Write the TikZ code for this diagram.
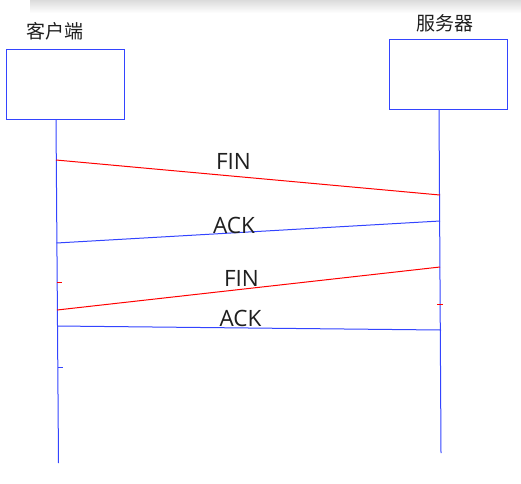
\documentclass[tikz,border=0pt]{standalone}
\usepackage{fontspec}
\setmainfont{Open Sans}
\newfontfamily\cjk{Noto Sans CJK SC}
\usetikzlibrary{positioning}
\definecolor{lineblue}{RGB}{51,68,255}
\definecolor{linered}{RGB}{255,0,0}
\tikzset{
  party/.style={draw=lineblue, line width=1pt, minimum width=118pt, minimum height=70pt, inner sep=0pt},
  life/.style={draw=lineblue, line width=1pt},
  finmsg/.style={draw=linered, line width=1pt},
  ackmsg/.style={draw=lineblue, line width=1pt},
  lbl/.style={font=\fontsize{22.5}{25}\selectfont, inner sep=0pt, text=black!88},
  cjklbl/.style={font=\cjk\fontsize{19}{22}\selectfont, inner sep=0pt, text=black!88},
}

\begin{document}
\begin{tikzpicture}[x=1pt,y=-1pt]
    \useasboundingbox (0,0) rectangle (521,483);
    \shade[top color=black!14, bottom color=white] (30,0) rectangle (521,13);
    % boxes and names
    \node[party] (client) at (65,84) {};
    \node[party] (server) at (448,74) {};
    \node[cjklbl] (clientname) at (55,31.5) {客户端};
    \node[cjklbl] (servername) at (445,23) {服务器};
    % lifelines
    \coordinate (ctop) at (56,119);
    \coordinate (cbot) at (58.5,463);
    \coordinate (stop) at (439,109);
    \coordinate (sbot) at (441,453);
    \draw[life] (ctop) -- (cbot);
    \draw[life] (stop) -- (sbot);
    % message ends
    \coordinate (c1) at (56,160);
    \coordinate (s1) at (440,195);
    \coordinate (s2) at (440,221);
    \coordinate (c2) at (56.5,243);
    \coordinate (s3) at (440,267);
    \coordinate (c3) at (57,310);
    \coordinate (c4) at (57.5,326);
    \coordinate (s4) at (441,330);
    \draw[finmsg] (c1) -- (s1);
    \draw[ackmsg] (s2) -- (c2);
    \draw[finmsg] (s3) -- (c3);
    \draw[ackmsg] (c4) -- (s4);
    \node[lbl] (fin1) at (233.5,161.5) {FIN};
    \node[lbl] (ack1) at (234,225) {ACK};
    \node[lbl] (fin2) at (241.5,278) {FIN};
    \node[lbl] (ack2) at (240.5,318.5) {ACK};
    % small marks
    \coordinate (cm1) at (57,282);
    \coordinate (cm2) at (58,367);
    \coordinate (sm1) at (437,304);
    \draw[finmsg] (cm1) -- ++(4.5,0);
    \draw[ackmsg] (cm2) -- ++(4.5,0);
    \draw[finmsg] (sm1) -- ++(6,0);
\end{tikzpicture}
\end{document}
